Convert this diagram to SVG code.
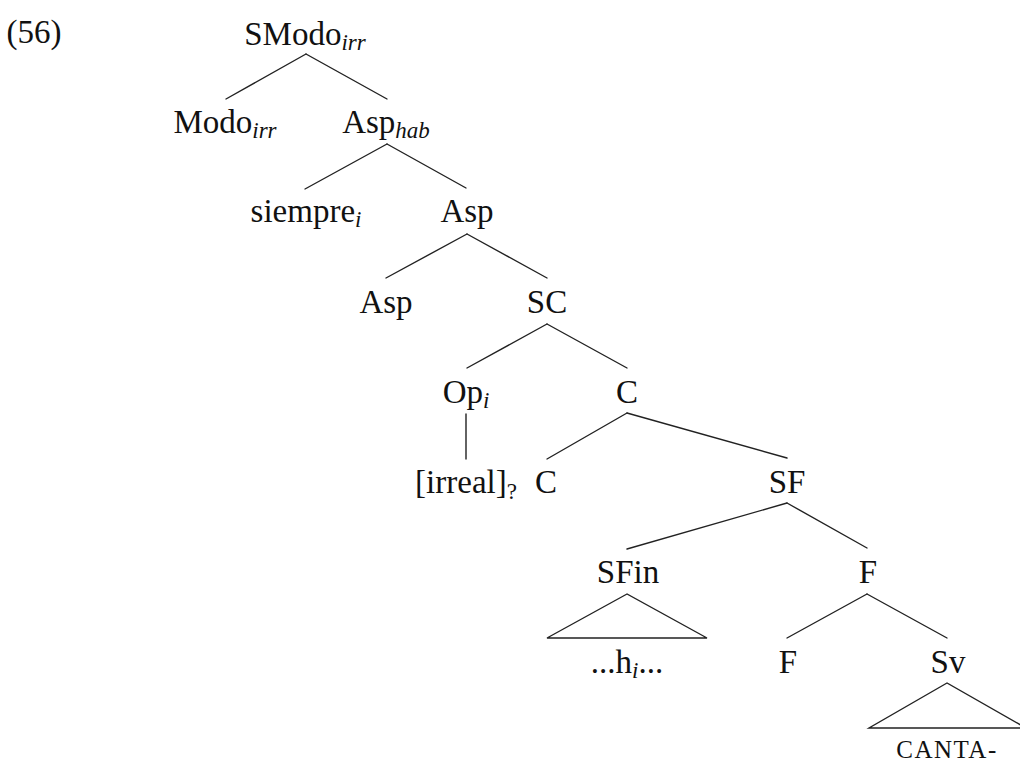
<svg xmlns="http://www.w3.org/2000/svg" width="1020" height="763" viewBox="0 0 1020 763">
<style>
text{font-family:"Liberation Serif","Times New Roman",serif;font-size:33px;fill:#111;text-anchor:middle}
.sub{font-size:23px;font-style:italic}
.sc{font-size:25px;letter-spacing:1.5px}
line,polygon{stroke:#222;stroke-width:1.4;fill:none;stroke-linecap:round}
</style>
<rect width="1020" height="763" fill="#fff"/>
<text x="34" y="43">(56)</text>
<g id="connectors">
<line x1="306" y1="54" x2="226" y2="99"/>
<line x1="306" y1="54" x2="387" y2="99"/>
<line x1="387" y1="144" x2="305" y2="189"/>
<line x1="387" y1="144" x2="466" y2="188"/>
<line x1="467" y1="234" x2="386" y2="278"/>
<line x1="467" y1="234" x2="547" y2="278"/>
<line x1="547" y1="324" x2="467" y2="368"/>
<line x1="547" y1="324" x2="627" y2="368"/>
<line x1="466" y1="414" x2="466" y2="459"/>
<line x1="627" y1="413" x2="547" y2="459"/>
<line x1="627" y1="413" x2="787" y2="458"/>
<line x1="787" y1="503" x2="627" y2="549"/>
<line x1="787" y1="503" x2="867" y2="548"/>
<line x1="867" y1="594" x2="787" y2="638"/>
<line x1="867" y1="594" x2="947" y2="638"/>
<polygon points="627,594 547,638 707,638"/>
<polygon points="947,683 869,728 1026,728"/>
</g>
<g id="n-smodo"><text x="305" y="45">SModo<tspan class="sub" dy="5">irr</tspan></text></g>
<g id="n-modo"><text x="225" y="133">Modo<tspan class="sub" dy="5">irr</tspan></text></g>
<g id="n-asphab"><text x="386" y="133">Asp<tspan class="sub" dy="5">hab</tspan></text></g>
<g id="n-siempre"><text x="306" y="222">siempre<tspan class="sub" dy="5">i</tspan></text></g>
<g id="n-asp1"><text x="467" y="222">Asp</text></g>
<g id="n-asp2"><text x="386" y="313">Asp</text></g>
<g id="n-sc"><text x="547" y="313">SC</text></g>
<g id="n-op"><text x="466" y="403">Op<tspan class="sub" dy="5">i</tspan></text></g>
<g id="n-c1"><text x="627" y="403">C</text></g>
<g id="n-irreal"><text x="466" y="493">[irreal]<tspan font-size="23" dy="6">?</tspan></text></g>
<g id="n-c2"><text x="546" y="493">C</text></g>
<g id="n-sf"><text x="787" y="493">SF</text></g>
<g id="n-sfin"><text x="628" y="583">SFin</text></g>
<g id="n-f1"><text x="868" y="583">F</text></g>
<g id="n-h"><text x="627" y="673">...h<tspan class="sub" dy="5">i</tspan><tspan dy="-5">...</tspan></text></g>
<g id="n-f2"><text x="788" y="673">F</text></g>
<g id="n-sv"><text x="948" y="673">Sv</text></g>
<g id="n-canta"><text class="sc" x="947" y="758">CANTA-</text></g>
</svg>
